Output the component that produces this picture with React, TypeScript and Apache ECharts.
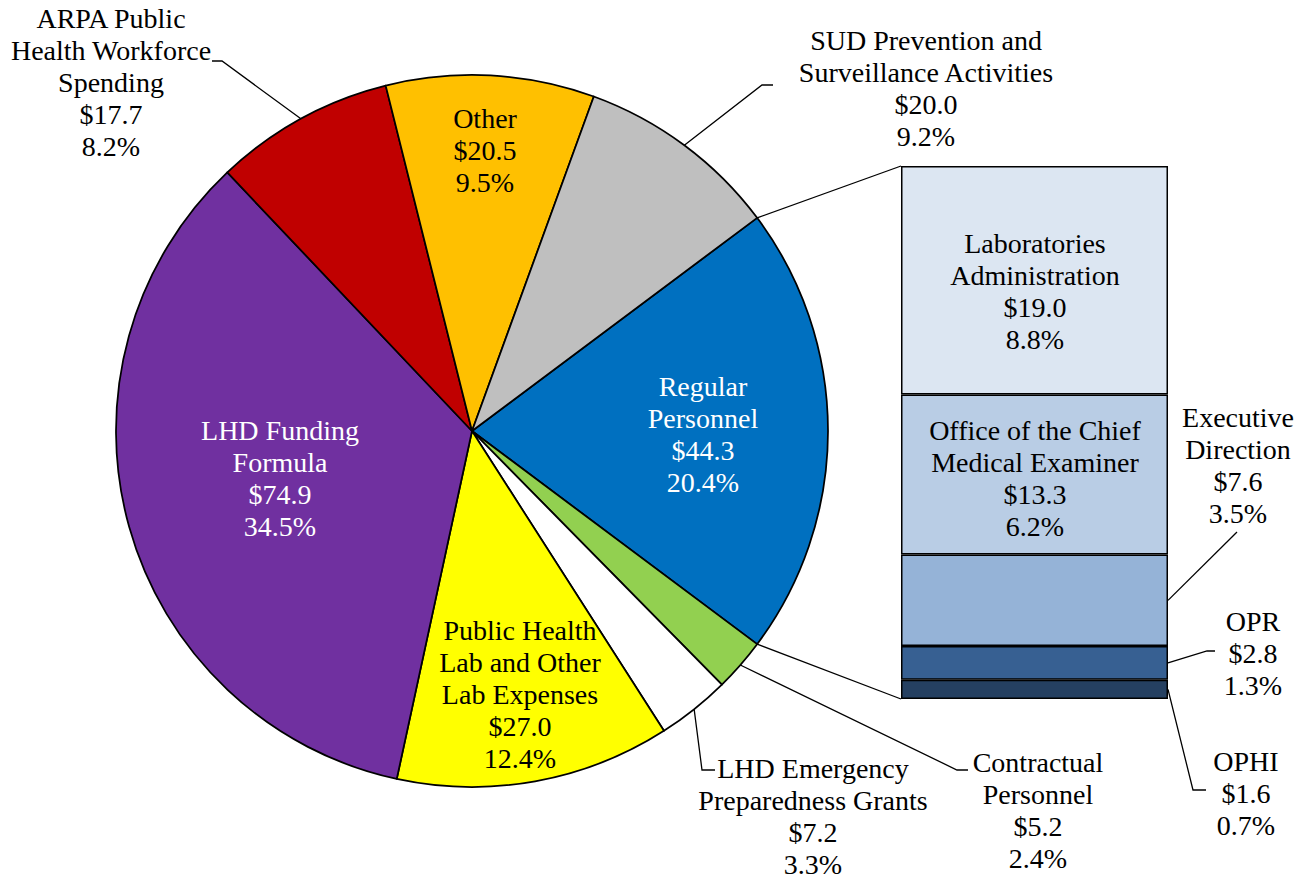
import React, { useEffect, useRef } from "react";
import * as echarts from "echarts";

// ---------- data ----------
const pieNames = [
  "Regular\nPersonnel",
  "Contractual\nPersonnel",
  "LHD Emergency\nPreparedness Grants",
  "Public Health\nLab and Other\nLab Expenses",
  "LHD Funding\nFormula",
  "ARPA Public\nHealth Workforce\nSpending",
  "Other",
  "SUD Prevention and\nSurveillance Activities",
];
const pieValues = [44.3, 5.2, 7.2, 27.0, 74.9, 17.7, 20.5, 20.0];
const piePercents = ["20.4%", "2.4%", "3.3%", "12.4%", "34.5%", "8.2%", "9.5%", "9.2%"];

const barNames = [
  "Laboratories\nAdministration",
  "Office of the Chief\nMedical Examiner",
  "Executive\nDirection",
  "OPR",
  "OPHI",
];
const barValues = [19.0, 13.3, 7.6, 2.8, 1.6];
const barPercents = ["8.8%", "6.2%", "3.5%", "1.3%", "0.7%"];

// ---------- styles / layout ----------
const pieColors = ["#0070C0", "#92D050", "#FFFFFF", "#FFFF00", "#7030A0", "#C00000", "#FFC000", "#BFBFBF"];
const pieLabelColors = ["#FFFFFF", "#000000", "#000000", "#000000", "#FFFFFF", "#000000", "#000000", "#000000"];
const barColors = ["#DCE6F2", "#B9CDE5", "#95B3D7", "#376092", "#254061"];

const W = 1308;
const H = 879;
const CX = 472;
const CY = 431;
const R = 356;
const GRID = { left: 901, top: 166, width: 267, height: 533 };
const FONT = "Liberation Serif";
const FONT_SIZE = 28;
const LINE_H = 32;

const pieLabelPos = [
  [703, 434],
  [1038, 810],
  [813, 816],
  [520, 694],
  [280, 478],
  [111, 82],
  [485, 150],
  [926, 88],
];
const pieLeaderElbows: (number[][] | null)[] = [
  null,
  [[957, 770], [968, 770]],
  [[702, 770], [715, 770]],
  null,
  null,
  [[222, 61], [212, 61]],
  null,
  [[762, 85], [773, 85]],
];
const barLabelPos = [
  [1035, 291],
  [1035, 478],
  [1238, 465],
  [1253, 653],
  [1246, 793],
];
const barLeaderElbows: (number[][] | null)[] = [
  null,
  null,
  [[1237, 532]],
  [[1207, 651], [1215, 651]],
  [[1193, 790], [1206, 790]],
];

const LINE_STYLE = { stroke: "#000", lineWidth: 1.3, fill: null as any };

export default function App() {
  const ref = useRef<HTMLDivElement>(null);

  useEffect(() => {
    document.body.style.margin = "0";
    if (!ref.current) return;
    const chart = echarts.init(ref.current, undefined, { renderer: "svg" });

    const pieTotal = pieValues.reduce((a, b) => a + b, 0);
    const startAngle = (pieValues[0] / pieTotal) * 180;
    const angleAt = (cum: number) => startAngle - (cum / pieTotal) * 360;
    const edgePoint = (deg: number) => {
      const t = (deg * Math.PI) / 180;
      return [CX + R * Math.cos(t), CY - R * Math.sin(t)];
    };

    const barTotal = barValues.reduce((a, b) => a + b, 0);
    const yPix = (v: number) => GRID.top + GRID.height * (1 - v / barTotal);

    const graphics: any[] = [];

    // pie leader lines
    let cum = 0;
    pieValues.forEach((v, i) => {
      const mid = angleAt(cum + v / 2);
      cum += v;
      const el = pieLeaderElbows[i];
      if (el) {
        graphics.push({
          type: "polyline",
          silent: true,
          shape: { points: [edgePoint(mid), ...el] },
          style: LINE_STYLE,
        });
      }
    });

    // bar leader lines
    barValues.forEach((v, i) => {
      const below = barValues.slice(i + 1).reduce((a, b) => a + b, 0);
      const el = barLeaderElbows[i];
      if (el) {
        graphics.push({
          type: "polyline",
          silent: true,
          shape: { points: [[GRID.left + GRID.width, yPix(below + v / 2)], ...el] },
          style: LINE_STYLE,
        });
      }
    });

    // connector lines between pie slice (first) and bar
    const pTop = edgePoint(angleAt(0));
    const pBot = edgePoint(angleAt(pieValues[0]));
    graphics.push({
      type: "line",
      silent: true,
      shape: { x1: pTop[0], y1: pTop[1], x2: GRID.left, y2: yPix(barTotal) },
      style: LINE_STYLE,
    });
    graphics.push({
      type: "line",
      silent: true,
      shape: { x1: pBot[0], y1: pBot[1], x2: GRID.left, y2: yPix(0) },
      style: LINE_STYLE,
    });

    const labelBase = {
      fontFamily: FONT,
      fontSize: FONT_SIZE,
      lineHeight: LINE_H,
      align: "center",
    };

    const barSeries: any[] = [];
    for (let i = barValues.length - 1; i >= 0; i--) {
      barSeries.push({
        type: "bar",
        name: barNames[i].replace("\n", " "),
        stack: "rp",
        barWidth: "100%",
        xAxisIndex: 0,
        yAxisIndex: 0,
        data: [barValues[i]],
        itemStyle: { color: barColors[i], borderColor: "#000", borderWidth: 1.5 },
        label: {
          show: true,
          position: "inside",
          ...labelBase,
          color: "#000",
          formatter: () => `${barNames[i]}\n$${barValues[i].toFixed(1)}\n${barPercents[i]}`,
        },
        labelLayout: () => ({
          x: barLabelPos[i][0],
          y: barLabelPos[i][1],
          align: "center",
          verticalAlign: "middle",
        }),
      });
    }

    chart.setOption({
      animation: false,
      backgroundColor: "#FFFFFF",
      textStyle: { fontFamily: FONT },
      grid: { ...GRID, containLabel: false },
      xAxis: { type: "category", data: ["Regular Personnel"], show: false, boundaryGap: true },
      yAxis: { type: "value", min: 0, max: barTotal, show: false },
      series: [
        {
          type: "pie",
          center: [CX, CY],
          radius: R,
          startAngle,
          clockwise: true,
          avoidLabelOverlap: false,
          data: pieValues.map((v, i) => ({
            name: pieNames[i],
            value: v,
            itemStyle: { color: pieColors[i] },
            label: { color: pieLabelColors[i] },
          })),
          itemStyle: { borderColor: "#000", borderWidth: 1.75 },
          label: {
            show: true,
            position: "inside",
            ...labelBase,
            formatter: (p: any) => `${p.name}\n$${Number(p.value).toFixed(1)}\n${piePercents[p.dataIndex]}`,
          },
          labelLine: { show: false },
          labelLayout: (p: any) => ({
            x: pieLabelPos[p.dataIndex][0],
            y: pieLabelPos[p.dataIndex][1],
            align: "center",
            verticalAlign: "middle",
          }),
          emphasis: { disabled: true },
        },
        ...barSeries,
      ],
      graphic: graphics,
    });

    return () => chart.dispose();
  }, []);

  return (
    <div
      ref={ref}
      style={{ position: "absolute", left: 0, top: 0, width: W, height: H }}
    />
  );
}
